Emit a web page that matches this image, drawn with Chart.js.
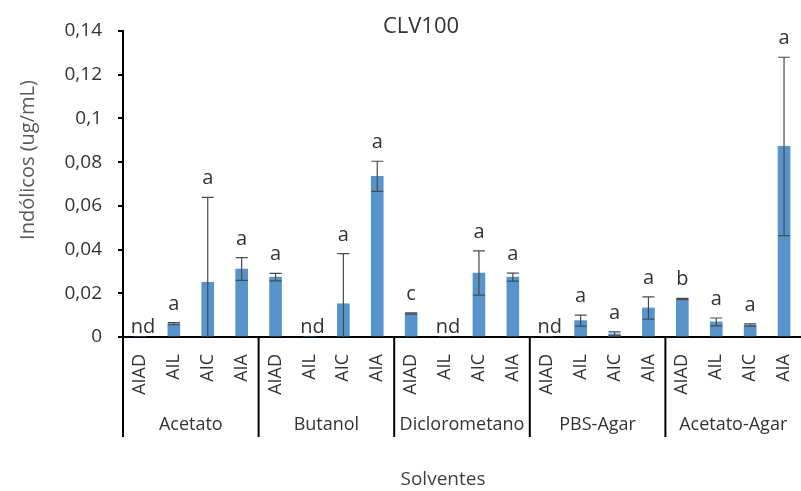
<!DOCTYPE html>
<html lang="pt">
<head>
    <meta charset="UTF-8">
    <title>CLV100</title>
    <script src="https://cdn.jsdelivr.net/npm/chart.js"></script>
    <style>
        body { margin: 0; background: #fff; }
        canvas { display: block; }
    </style>
</head>
<body>
    <canvas id="clvChart" width="801" height="491"></canvas>
<script>
    const groups = ["Acetato", "Butanol", "Diclorometano", "PBS-Agar", "Acetato-Agar"];
    const compounds = ["AIAD", "AIL", "AIC", "AIA"];
    const values = [0, 0.0061, 0.0250, 0.0311, 0.0274, 0, 0.0152, 0.0735, 0.0107, 0, 0.0293, 0.0274, 0, 0.0075, 0.0014, 0.0133, 0.0174, 0.0069, 0.0055, 0.0872];
    const errors = [0, 0.0005, 0.0389, 0.0052, 0.0017, 0, 0.0229, 0.0069, 0.0003, 0, 0.0101, 0.0018, 0, 0.0025, 0.0009, 0.0051, 0.0003, 0.0018, 0.0005, 0.0408];
    const letters = ["nd", "a", "a", "a", "a", "nd", "a", "a", "c", "nd", "a", "a", "nd", "a", "a", "a", "b", "a", "a", "a"];
    const yTicks = [0, 0.02, 0.04, 0.06, 0.08, 0.1, 0.12, 0.14];

    const labels = groups.flatMap(() => compounds);
    const FONT = "'Open Sans', sans-serif";

    Chart.defaults.font.family = FONT;

    // error bars, letters, group labels and titles
    const extras = {
        id: "extras",
        afterDatasetsDraw(chart) {
            const ctx = chart.ctx;
            const y = chart.scales.y;
            const bars = chart.getDatasetMeta(0).data;

            ctx.save();
            bars.forEach((bar, i) => {
                let v = values[i], e = errors[i];
                let top = y.getPixelForValue(v + e);
                if (e > 0) {
                    let low = y.getPixelForValue(Math.max(v - e, 0));
                    ctx.strokeStyle = "#4a4a4a";
                    ctx.lineWidth = 1.2;
                    ctx.beginPath();
                    ctx.moveTo(bar.x, top);
                    ctx.lineTo(bar.x, low);
                    ctx.moveTo(bar.x - 6, top);
                    ctx.lineTo(bar.x + 6, top);
                    if (v - e > 0) {
                        ctx.moveTo(bar.x - 6, low);
                        ctx.lineTo(bar.x + 6, low);
                    }
                    ctx.stroke();
                }
                ctx.fillStyle = "#333";
                ctx.font = "20px " + FONT;
                ctx.textAlign = "center";
                ctx.textBaseline = "alphabetic";
                let base = v === 0 ? y.getPixelForValue(0) - 4 : top - 13;
                ctx.fillText(letters[i], bar.x + (v === 0 ? 3 : 0), base);
            });
            ctx.restore();
        },
        afterDraw(chart) {
            const ctx = chart.ctx;
            const x = chart.scales.x;
            const area = chart.chartArea;
            const step = x.getPixelForValue(1) - x.getPixelForValue(0);

            ctx.save();
            ctx.strokeStyle = "#000";
            ctx.lineWidth = 2;
            ctx.beginPath();
            for (let g = 0; g < groups.length; g++) {
                let sx = g === 0 ? area.left : x.getPixelForValue(g * 4) - step / 2;
                ctx.moveTo(sx, area.bottom);
                ctx.lineTo(sx, 437);
            }
            ctx.stroke();

            ctx.fillStyle = "#333";
            ctx.font = "18px " + FONT;
            ctx.textAlign = "center";
            groups.forEach((g, k) => {
                let cx = (x.getPixelForValue(k * 4 + 1) + x.getPixelForValue(k * 4 + 2)) / 2;
                ctx.fillText(g, cx, 430);
            });

            ctx.font = "22px " + FONT;
            ctx.fillText("CLV100", 421, 33);

            ctx.font = "19px " + FONT;
            ctx.fillStyle = "#404040";
            ctx.fillText("Solventes", 443, 485);

            ctx.translate(34, 160);
            ctx.rotate(-Math.PI / 2);
            ctx.font = "20px " + FONT;
            ctx.fillStyle = "#595959";
            ctx.fillText("Indólicos (ug/mL)", 0, 0);
            ctx.restore();
        }
    };

    new Chart(document.getElementById("clvChart"), {
        type: "bar",
        data: {
            labels: labels,
            datasets: [{
                data: values,
                backgroundColor: "#5794cc",
                barThickness: 12
            }]
        },
        options: {
            responsive: false,
            animation: false,
            devicePixelRatio: 1,
            layout: { autoPadding: false, padding: { top: 31, left: 0, right: 0, bottom: 0 } },
            plugins: { legend: { display: false }, tooltip: { enabled: false } },
            scales: {
                x: {
                    grid: { display: false, drawTicks: false },
                    border: { display: true, color: "#000", width: 2 },
                    ticks: {
                        minRotation: 90, maxRotation: 90, autoSkip: false,
                        padding: 17, color: "#333", font: { size: 18 }
                    },
                    afterFit: s => {
                        s.height = 154;
                        s.paddingLeft = 0;
                        s.paddingRight = 0;
                    }
                },
                y: {
                    min: 0, max: 0.14,
                    afterBuildTicks: s => { s.ticks = yTicks.map(v => ({ value: v })); },
                    grid: { drawOnChartArea: false, drawTicks: true, tickLength: 5, color: "#000", lineWidth: 2 },
                    border: { display: true, color: "#000", width: 2 },
                    ticks: {
                        padding: 16, color: "#333", font: { size: 19 },
                        callback: v => v === 0 ? "0" : (Math.round(v * 100) / 100).toString().replace(".", ",")
                    },
                    afterFit: s => { s.width = 123; }
                }
            }
        },
        plugins: [extras]
    });
</script>
</body>
</html>
